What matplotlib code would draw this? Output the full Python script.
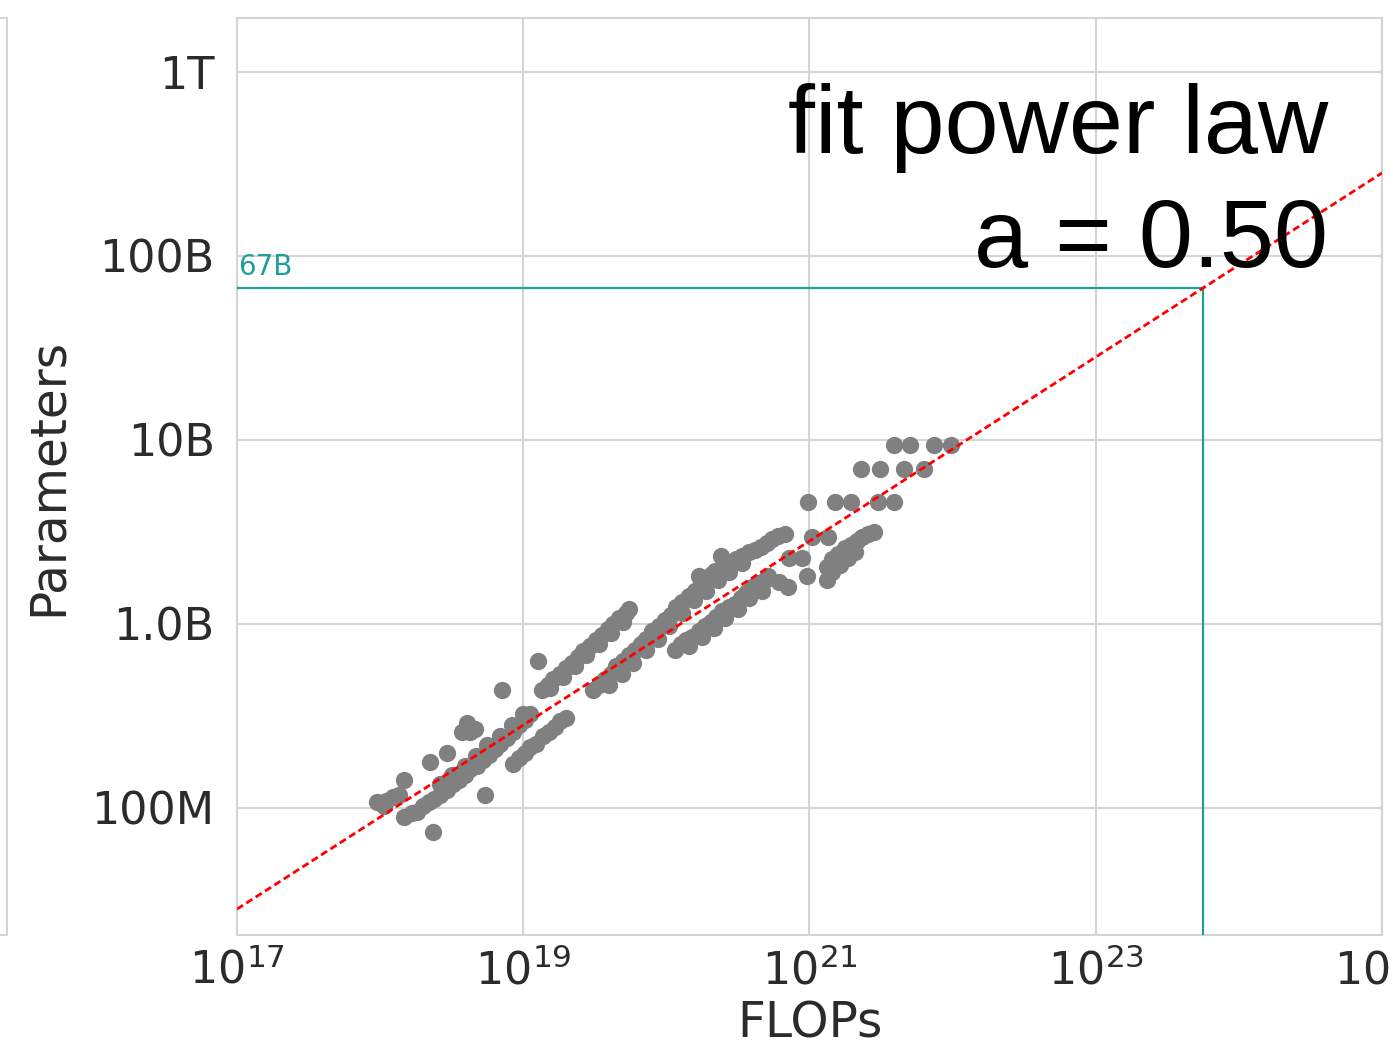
import numpy as np
import matplotlib.pyplot as plt
from matplotlib.ticker import NullLocator

# training runs: log10(FLOPs) and log10(parameters)
log10_flops = [
    17.98, 18.04, 18.09, 18.13, 18.03, 18.17,
    18.35, 18.47, 18.57, 18.63, 18.61, 18.66, 18.37, 18.73, 18.85, 19.10,
    18.17, 18.22, 18.26, 18.30, 18.34, 18.38, 18.42, 18.47, 18.51, 18.55, 18.59,
    18.63, 18.68, 18.72, 18.76, 18.80, 18.84, 18.89, 18.93, 18.97, 19.01, 19.05,
    18.42, 18.50, 18.59, 18.67, 18.75, 18.84, 18.92, 19.00,
    18.93, 18.97, 19.01, 19.05, 19.09, 19.14, 19.18, 19.22, 19.26, 19.30,
    19.13, 19.17, 19.21, 19.26, 19.30, 19.34, 19.38, 19.42, 19.47, 19.51, 19.55,
    19.59, 19.63, 19.67, 19.72, 19.74,
    19.19, 19.28, 19.36, 19.44, 19.53, 19.61, 19.70,
    19.49, 19.53, 19.57, 19.61, 19.65, 19.70, 19.74, 19.78, 19.82, 19.86, 19.90,
    19.95, 19.99, 20.03, 20.07, 20.11, 20.16, 20.20, 20.24, 20.28, 20.32, 20.37,
    20.41, 20.45, 20.49, 20.53, 20.58, 20.62, 20.66, 20.70, 20.74, 20.78, 20.83,
    19.60, 19.69, 19.77, 19.86, 19.94, 20.02, 20.11, 20.19, 20.28, 20.36, 20.44, 20.53,
    20.23, 20.34, 20.38,
    20.06, 20.10, 20.14, 20.18, 20.23, 20.27, 20.31, 20.35, 20.39, 20.44, 20.48,
    20.52, 20.56, 20.60, 20.65, 20.69, 20.71,
    20.16, 20.25, 20.33, 20.41, 20.50, 20.58, 20.67,
    20.79, 20.85, 20.98, 20.86, 20.95, 21.02, 21.13,
    20.99, 21.18, 21.29, 21.48, 21.59,
    21.36, 21.49, 21.66, 21.80,
    21.59, 21.70, 21.87, 21.99,
    21.12, 21.12, 21.16, 21.16, 21.20, 21.21, 21.25, 21.27, 21.29, 21.32, 21.33,
    21.37, 21.41, 21.45,
]
log10_params = [
    8.03, 8.04, 8.06, 8.07, 8.01, 8.15,
    8.25, 8.30, 8.41, 8.41, 8.46, 8.43, 7.87, 8.07, 8.64, 8.80,
    7.95, 7.97, 7.98, 8.01, 8.03, 8.05, 8.07, 8.10, 8.13, 8.15, 8.18,
    8.21, 8.23, 8.26, 8.29, 8.32, 8.35, 8.38, 8.41, 8.45, 8.48, 8.51,
    8.13, 8.18, 8.23, 8.28, 8.34, 8.39, 8.45, 8.51,
    8.24, 8.27, 8.30, 8.33, 8.35, 8.39, 8.41, 8.44, 8.47, 8.49,
    8.64, 8.67, 8.70, 8.73, 8.76, 8.79, 8.82, 8.85, 8.88, 8.91, 8.94,
    8.97, 9.00, 9.03, 9.06, 9.08,
    8.65, 8.71, 8.77, 8.83, 8.89, 8.95, 9.01,
    8.64, 8.67, 8.70, 8.73, 8.77, 8.80, 8.83, 8.86, 8.89, 8.92, 8.96,
    8.99, 9.02, 9.05, 9.09, 9.12, 9.15, 9.18, 9.22, 9.24, 9.27, 9.29,
    9.31, 9.33, 9.35, 9.37, 9.39, 9.40, 9.42, 9.44, 9.46, 9.48, 9.49,
    8.67, 8.73, 8.79, 8.86, 8.92, 8.99, 9.06, 9.13, 9.18, 9.24, 9.28, 9.33,
    9.26, 9.29, 9.37,
    8.86, 8.89, 8.91, 8.93, 8.96, 8.99, 9.01, 9.04, 9.07, 9.09, 9.11,
    9.14, 9.17, 9.20, 9.22, 9.24, 9.26,
    8.88, 8.93, 8.98, 9.03, 9.08, 9.14, 9.18,
    9.23, 9.20, 9.26, 9.36, 9.36, 9.47, 9.47,
    9.66, 9.66, 9.66, 9.66, 9.66,
    9.84, 9.84, 9.84, 9.84,
    9.97, 9.97, 9.97, 9.97,
    9.24, 9.31, 9.28, 9.35, 9.38, 9.32, 9.41, 9.36, 9.43, 9.39, 9.45,
    9.47, 9.49, 9.50,
]

# power law fit N = coef * C^a, and the 67B target
fit_exponent = 0.50
fit_log10_coef = -1.05
target_params = 67e9

x_limits = [1e17, 1e25]
y_limits = [2.04e7, 1.96e12]
x_ticks = [1e17, 1e19, 1e21, 1e23, 1e25]
y_ticks = [1e8, 1e9, 1e10, 1e11, 1e12]
y_tick_labels = ['100M', '1.0B', '10B', '100B', '1T']

teal = '#1f9e9a'
light = '#d4d4d4'
dark = '#2b2b2b'

flops = 10 ** np.array(log10_flops)
params = 10 ** np.array(log10_params)
coef = 10 ** fit_log10_coef

fig = plt.figure(figsize=(13.93, 10.56), dpi=100)

# edge of the neighbouring panel on the left
ax_left = fig.add_axes([-0.2, 0.1146, 0.2 + 7 / 1393, 0.8684])
ax_left.set_xticks([])
ax_left.set_yticks([])
for s in ax_left.spines.values():
    s.set_color(light)
    s.set_linewidth(1.5)

ax = fig.add_axes([0.1701, 0.1146, 0.8220, 0.8684])
ax.set_xscale('log')
ax.set_yscale('log')
ax.set_xlim(x_limits)
ax.set_ylim(y_limits)

ax.scatter(flops, params, s=155, color='#808080', linewidths=0, zorder=3)

fit_x = np.array(x_limits)
ax.plot(fit_x, coef * fit_x ** fit_exponent, color='red', lw=2.0,
        dashes=(2.6, 1.4), zorder=5)

c_opt = (target_params / coef) ** (1 / fit_exponent)
ax.plot([x_limits[0], c_opt], [target_params, target_params], color=teal, lw=1.6, zorder=4)
ax.plot([c_opt, c_opt], [y_limits[0], target_params], color=teal, lw=1.6, zorder=4)
ax.annotate('67B', xy=(x_limits[0], target_params), xytext=(1, 5),
            textcoords='offset points', color=teal, fontsize=20,
            ha='left', va='bottom')

ax.set_xticks(x_ticks)
ax.xaxis.set_minor_locator(NullLocator())
ax.set_yticks(y_ticks)
ax.set_yticklabels(y_tick_labels)
ax.yaxis.set_minor_locator(NullLocator())
ax.tick_params(axis='both', length=0, labelsize=32, labelcolor=dark)
ax.tick_params(axis='x', pad=10)
ax.tick_params(axis='y', pad=16)

ax.grid(True, color=light, lw=1.5)
ax.set_axisbelow(True)
for s in ax.spines.values():
    s.set_color(light)
    s.set_linewidth(1.5)

ax.set_xlabel('FLOPs', fontsize=35, color=dark, labelpad=4)
ax.set_ylabel('Parameters', fontsize=35, color=dark, labelpad=14)

fig.text(0.9533, 0.8551, 'fit power law', family='Liberation Sans',
         fontsize=70, ha='right', va='baseline', color='black')
fig.text(0.9533, 0.7472, 'a = 0.50', family='Liberation Sans',
         fontsize=70, ha='right', va='baseline', color='black')

fig.savefig('out.png', dpi=100)
